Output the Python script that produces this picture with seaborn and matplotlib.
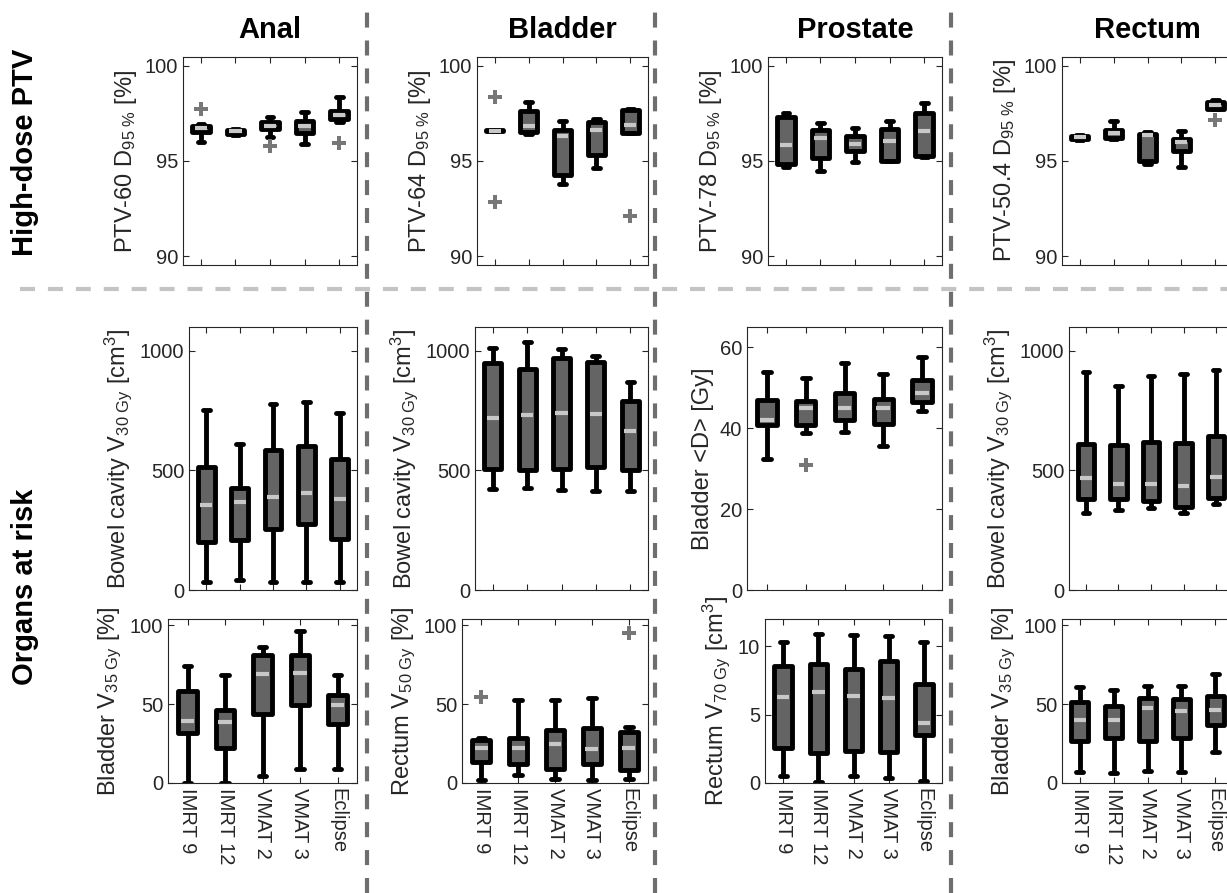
import numpy as np
import pandas as pd
import matplotlib
matplotlib.use("Agg")
import matplotlib.pyplot as plt
import matplotlib.colors as mcolors
from matplotlib.lines import Line2D
import seaborn as sns

# ================================
# Data
# each panel: whisker low, Q1, median, Q3, whisker high  (one value per plan)
# ================================
plans = ["IMRT 9", "IMRT 12", "VMAT 2", "VMAT 3", "Eclipse"]
sites = ["Anal", "Bladder", "Prostate", "Rectum"]

# --- High-dose PTV, D95% [%]
anal_ptv = [
    [96.00, 96.38, 96.27, 95.87, 97.06],
    [96.54, 96.42, 96.66, 96.45, 97.20],
    [96.71, 96.57, 96.83, 96.85, 97.41],
    [96.85, 96.64, 97.02, 97.11, 97.62],
    [96.95, 96.68, 97.29, 97.58, 98.37],
]
anal_ptv_out = [("IMRT 9", 97.70), ("VMAT 2", 95.79), ("Eclipse", 95.96)]

bladder_ptv = [
    [96.55, 96.40, 93.80, 94.65, 96.45],
    [96.55, 96.50, 94.27, 95.30, 96.48],
    [96.59, 96.85, 96.30, 96.62, 96.88],
    [96.63, 97.62, 96.65, 97.02, 97.67],
    [96.63, 98.10, 97.09, 97.20, 97.75],
]
bladder_ptv_out = [("IMRT 9", 98.33), ("IMRT 9", 92.84), ("Eclipse", 92.12)]

prostate_ptv = [
    [94.68, 94.50, 94.95, 95.00, 95.20],
    [94.82, 95.18, 95.55, 95.02, 95.26],
    [95.86, 96.23, 95.90, 96.05, 96.57],
    [97.30, 96.60, 96.30, 96.70, 97.53],
    [97.50, 97.00, 96.75, 97.10, 98.03],
]
prostate_ptv_out = []

rectum_ptv = [
    [96.10, 96.16, 94.86, 94.68, 97.70],
    [96.14, 96.21, 95.00, 95.53, 97.75],
    [96.24, 96.49, 96.35, 95.98, 97.96],
    [96.33, 96.65, 96.42, 96.16, 98.10],
    [96.37, 97.09, 96.50, 96.58, 98.19],
]
rectum_ptv_out = [("Eclipse", 97.14)]

# --- Organs at risk, first row
anal_oar1 = [
    [35, 40, 35, 35, 35],
    [199, 210, 255, 275, 214],
    [354, 366, 388, 406, 380],
    [514, 427, 587, 602, 547],
    [754, 609, 777, 787, 742],
]
bladder_oar1 = [
    [423, 428, 419, 414, 414],
    [508, 501, 508, 513, 501],
    [718, 730, 740, 736, 665],
    [950, 924, 971, 953, 792],
    [1012, 1039, 1008, 978, 870],
]
prostate_oar1 = [
    [32.4, 38.8, 39.1, 35.6, 44.3],
    [40.9, 40.9, 42.0, 41.1, 46.4],
    [42.0, 45.0, 45.0, 45.0, 48.6],
    [46.9, 46.7, 48.7, 47.1, 51.8],
    [53.8, 52.4, 56.1, 53.5, 57.6],
]
prostate_oar1_out = [("IMRT 12", 31.0)]
rectum_oar1 = [
    [322, 333, 343, 322, 358],
    [380, 380, 372, 349, 384],
    [470, 442, 442, 434, 474],
    [609, 606, 620, 616, 645],
    [912, 853, 896, 904, 919],
]

# --- Organs at risk, second row
anal_oar2 = [
    [0.0, 0.0, 4.6, 8.8, 8.8],
    [31.4, 22.4, 43.8, 49.7, 37.1],
    [39.2, 38.6, 69.0, 70.0, 49.3],
    [58.1, 46.5, 81.1, 81.1, 56.0],
    [74.4, 68.6, 86.4, 96.2, 68.6],
]
bladder_oar2 = [
    [1.6, 5.1, 2.3, 2.1, 2.7],
    [13.4, 12.3, 8.8, 12.3, 8.2],
    [22.2, 22.2, 24.7, 21.6, 22.2],
    [27.4, 28.8, 33.5, 34.6, 32.5],
    [28.4, 52.5, 52.5, 53.7, 35.2],
]
bladder_oar2_out = [("IMRT 9", 54.5), ("Eclipse", 95.3)]
prostate_oar2 = [
    [0.48, 0.05, 0.48, 0.38, 0.13],
    [2.59, 2.20, 2.33, 2.28, 3.48],
    [6.27, 6.65, 6.40, 6.19, 4.42],
    [8.55, 8.68, 8.35, 8.93, 7.23],
    [10.30, 10.90, 10.80, 10.76, 10.30],
]
rectum_oar2 = [
    [7.2, 6.1, 7.6, 7.2, 19.9],
    [26.9, 28.4, 26.9, 28.4, 36.7],
    [39.7, 40.2, 47.6, 45.4, 46.1],
    [51.5, 49.1, 54.1, 53.1, 55.2],
    [61.1, 59.2, 61.8, 61.8, 69.0],
]

# ================================
# Panel setup
# ================================
ptv_lab = r"D$_{\mathrm{95\ \%}}$ [%]"
bowel_lab = r"Bowel cavity V$_{\mathrm{30\ Gy}}$ [cm$^{\mathrm{3}}$]"

panels = [
    # row, col, stats, outliers, ylabel, ylim, yticks
    (0, 0, anal_ptv, anal_ptv_out, "PTV-60 " + ptv_lab, (89.55, 100.45), [90, 95, 100]),
    (0, 1, bladder_ptv, bladder_ptv_out, "PTV-64 " + ptv_lab, (89.55, 100.45), [90, 95, 100]),
    (0, 2, prostate_ptv, prostate_ptv_out, "PTV-78 " + ptv_lab, (89.55, 100.45), [90, 95, 100]),
    (0, 3, rectum_ptv, rectum_ptv_out, "PTV-50.4 " + ptv_lab, (89.55, 100.45), [90, 95, 100]),
    (1, 0, anal_oar1, [], bowel_lab, (0, 1100), [0, 500, 1000]),
    (1, 1, bladder_oar1, [], bowel_lab, (0, 1100), [0, 500, 1000]),
    (1, 2, prostate_oar1, prostate_oar1_out, "Bladder <D> [Gy]", (0, 65), [0, 20, 40, 60]),
    (1, 3, rectum_oar1, [], bowel_lab, (0, 1100), [0, 500, 1000]),
    (2, 0, anal_oar2, [], r"Bladder V$_{\mathrm{35\ Gy}}$ [%]", (0, 104), [0, 50, 100]),
    (2, 1, bladder_oar2, bladder_oar2_out, r"Rectum V$_{\mathrm{50\ Gy}}$ [%]", (0, 104), [0, 50, 100]),
    (2, 2, prostate_oar2, [], r"Rectum V$_{\mathrm{70\ Gy}}$ [cm$^{\mathrm{3}}$]", (0, 12), [0, 5, 10]),
    (2, 3, rectum_oar2, [], r"Bladder V$_{\mathrm{35\ Gy}}$ [%]", (0, 104), [0, 50, 100]),
]

# axes boxes in pixels (top, bottom) per row and (left, right) per row/col
W, H = 1227, 893
row_px = [(57, 265), (327, 590), (619, 783)]
col_px = [
    [(183, 357), (477, 648), (768, 942), (1062, 1233)],
    [(189, 357), (475, 648), (747, 942), (1069, 1233)],
    [(168, 357), (462, 648), (765, 942), (1062, 1233)],
]

BOX_FILL = "#646464"
MEDIAN = "#c8c8c8"
OUTLIER = "#777777"

sns.set_style("ticks")
plt.rcParams["font.family"] = ["Liberation Sans", "DejaVu Sans"]
plt.rcParams["mathtext.fontset"] = "custom"
plt.rcParams["mathtext.rm"] = "Liberation Sans"
plt.rcParams["mathtext.it"] = "Liberation Sans:italic"
plt.rcParams["mathtext.bf"] = "Liberation Sans:bold"
plt.rcParams["text.color"] = "#262626"

fig = plt.figure(figsize=(W / 100, H / 100), dpi=100)

for row, col, stats, outs, ylabel, ylim, yticks in panels:
    top, bot = row_px[row]
    left, right = col_px[row][col]
    ax = fig.add_axes([left / W, 1 - bot / H, (right - left) / W, (bot - top) / H])

    df = pd.DataFrame({
        "plan": [p for p in plans for _ in stats],
        "value": [s[i] for i in range(len(plans)) for s in stats],
    })
    sns.boxplot(data=df, x="plan", y="value", order=plans, ax=ax,
                whis=(0, 100), width=0.5, linewidth=3.5, saturation=1,
                color=BOX_FILL, linecolor="black", showfliers=False,
                capwidths=0.2,
                medianprops={"color": MEDIAN, "linewidth": 3},
                boxprops={"joinstyle": "round"})

    # keep the median inside the thick box outline
    for ln in ax.lines:
        if mcolors.same_color(ln.get_color(), MEDIAN):
            x = np.asarray(ln.get_xdata(), dtype=float)
            c = x.mean()
            ln.set_xdata(c + (x - c) * 0.7)

    if outs:
        odf = pd.DataFrame(outs, columns=["plan", "value"])
        sns.stripplot(data=odf, x="plan", y="value", order=plans, ax=ax,
                      jitter=False, marker="P", size=10, color=OUTLIER,
                      linewidth=0)

    ax.set_xlim(-0.52, 4.52)
    ax.set_ylim(*ylim)
    ax.set_yticks(yticks)
    ax.set_xticks(range(len(plans)))
    ax.set_xlabel("")
    ax.set_ylabel(ylabel, fontsize=17, labelpad=4)
    ax.tick_params(direction="in", top=True, right=True, length=4,
                   width=0.8, labelsize=14.5, colors="#262626")
    if row == 2:
        ax.set_xticklabels(plans, rotation=270)
    else:
        ax.set_xticklabels([])
    for sp in ax.spines.values():
        sp.set_visible(True)
        sp.set_linewidth(0.8)
        sp.set_color("#262626")

# ================================
# Titles and separators
# ================================
for col, name in enumerate(sites):
    left, right = col_px[0][col]
    fig.text((left + right) / 2 / W, 1 - 30 / H, name, ha="center",
             va="center", fontsize=21, fontweight="bold", color="black")

fig.text(25 / W, 1 - 152 / H, "High-dose PTV", rotation=90, ha="center",
         va="center", fontsize=21, fontweight="bold", color="black")
fig.text(25 / W, 1 - 587 / H, "Organs at risk", rotation=90, ha="center",
         va="center", fontsize=21, fontweight="bold", color="black")

for xpx in [367, 655, 951]:
    fig.add_artist(Line2D([xpx / W, xpx / W], [0, 1], transform=fig.transFigure,
                          color="#6e6e6e", linewidth=3,
                          linestyle=(0, (3.6, 3.1))))
fig.add_artist(Line2D([20 / W, 1], [1 - 289 / H, 1 - 289 / H],
                      transform=fig.transFigure, color="#c4c4c4",
                      linewidth=3, linestyle=(0, (3.6, 3.1))))

fig.savefig("out.png", dpi=100)
